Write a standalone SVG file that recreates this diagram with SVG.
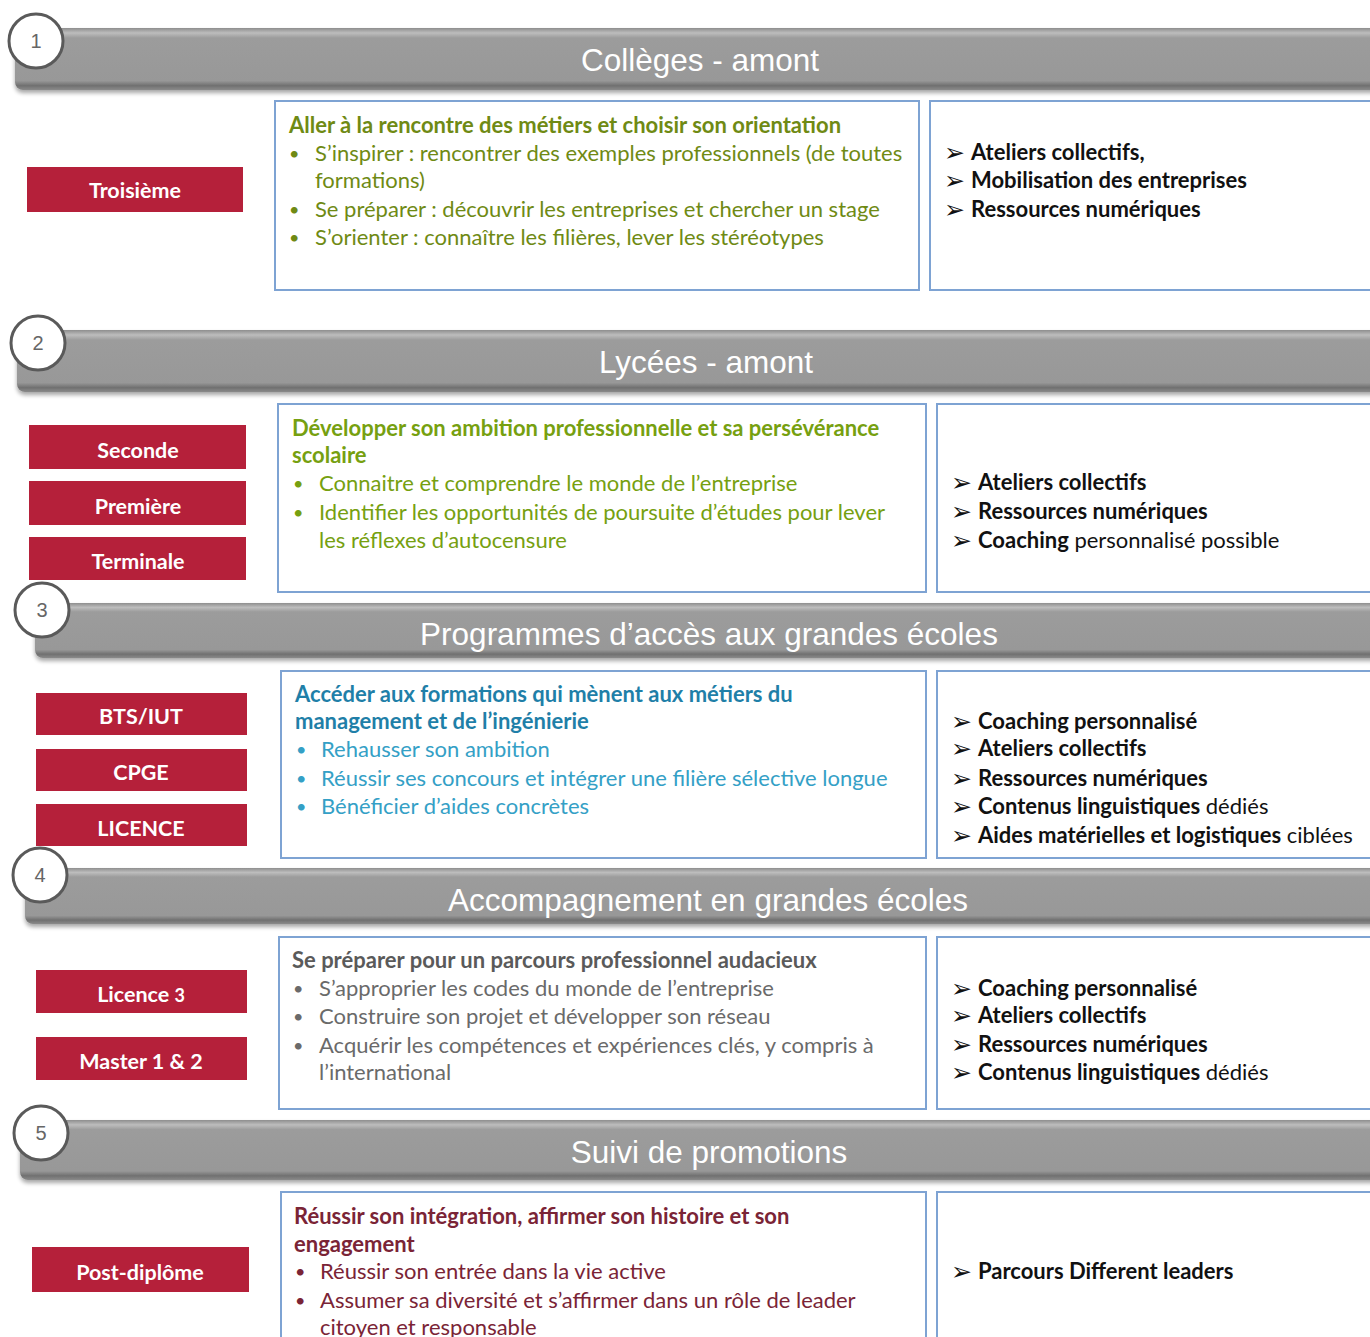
<svg xmlns="http://www.w3.org/2000/svg" width="1370" height="1337" viewBox="0 0 1370 1337">
<style>
.bar{fill:url(#barg);filter:url(#sh)}
.circ{fill:#fff;stroke:#5a5a5a;stroke-width:3}
.num{font-family:"Liberation Sans",Arial,sans-serif;font-size:20px;fill:#666;text-anchor:middle}
.title{font-family:"Liberation Sans",Arial,sans-serif;font-size:31.5px;fill:#fff;text-anchor:middle}
.red{fill:#b5203a}
.rt{font-family:Lato,"Liberation Sans",sans-serif;font-size:21.5px;font-weight:bold;fill:#fff;text-anchor:middle}
.box{fill:#fff;stroke:#7ea3d3;stroke-width:2}
.t{font-family:Lato,"Liberation Sans",sans-serif;font-size:22px}
.b{font-weight:bold}
.g1{fill:#6f8a14}
.g2{fill:#76a010}
.bl{fill:#1f7fa8}
.bl2{fill:#34a0c6}
.gr{fill:#5a5a5a}
.gr2{fill:#6a6a6a}
.rd{fill:#7a2436}
.k{fill:#111}
.ar{font-family:"DejaVu Sans",sans-serif;font-size:25px;fill:#111}
.dot{font-size:18px}
</style>
<defs>
<linearGradient id="barg" x1="0" y1="0" x2="0" y2="1">
<stop offset="0" stop-color="#8e8e8e"/>
<stop offset="0.08" stop-color="#bdbdbd"/>
<stop offset="0.16" stop-color="#9c9c9c"/>
<stop offset="0.85" stop-color="#989898"/>
<stop offset="0.93" stop-color="#707070"/>
<stop offset="1" stop-color="#8a8a8a"/>
</linearGradient>
<filter id="sh" x="-5%" y="-20%" width="110%" height="150%">
<feGaussianBlur in="SourceAlpha" stdDeviation="2"/>
<feOffset dx="0" dy="3" result="o"/>
<feComponentTransfer><feFuncA type="linear" slope="0.35"/></feComponentTransfer>
<feMerge><feMergeNode/><feMergeNode in="SourceGraphic"/></feMerge>
</filter>
</defs>

<!-- Section 1 -->
<g id="header1">
<rect class="bar" x="15" y="28" width="1370" height="62" rx="8"/>
<text class="title" x="700" y="71">Collèges - amont</text>
<circle class="circ" cx="36" cy="41" r="27"/>
<text class="num" x="36" y="48">1</text>
</g>
<g id="troisieme"><rect class="red" x="27" y="167" width="216" height="45"/><text class="rt" x="135" y="198">Troisième</text></g>
<g id="box1-mid">
<rect class="box" x="275" y="101" width="644" height="189"/>
<text class="t b g1" x="289" y="133">Aller à la rencontre des métiers et choisir son orientation</text>
<g class="t g1">
<text class="dot" x="289" y="160">•</text><text x="315" y="161">S’inspirer : rencontrer des exemples professionnels (de toutes</text>
<text x="315" y="188">formations)</text>
<text class="dot" x="289" y="216">•</text><text x="315" y="217">Se préparer : découvrir les entreprises et chercher un stage</text>
<text class="dot" x="289" y="244">•</text><text x="315" y="245">S’orienter : connaître les filières, lever les stéréotypes</text>
</g>
</g>
<g id="box1-right">
<rect class="box" x="930" y="101" width="460" height="189"/>
<text class="ar" x="944" y="161">➢</text><text class="t b k" x="971" y="160">Ateliers collectifs,</text>
<text class="ar" x="944" y="189">➢</text><text class="t b k" x="971" y="188">Mobilisation des entreprises</text>
<text class="ar" x="944" y="218">➢</text><text class="t b k" x="971" y="217">Ressources numériques</text>
</g>

<!-- Section 2 -->
<g id="header2">
<rect class="bar" x="17" y="330" width="1370" height="62" rx="8"/>
<text class="title" x="706" y="373">Lycées - amont</text>
<circle class="circ" cx="38" cy="343" r="27"/>
<text class="num" x="38" y="350">2</text>
</g>
<g id="seconde"><rect class="red" x="29" y="425" width="217" height="44"/><text class="rt" x="138" y="458">Seconde</text></g>
<g id="premiere"><rect class="red" x="29" y="481" width="217" height="44"/><text class="rt" x="138" y="514">Première</text></g>
<g id="terminale"><rect class="red" x="29" y="537" width="217" height="43"/><text class="rt" x="138" y="569">Terminale</text></g>
<g id="box2-mid">
<rect class="box" x="278" y="404" width="648" height="188"/>
<text class="t b g2" x="292" y="436">Développer son ambition professionnelle et sa persévérance</text>
<text class="t b g2" x="292" y="463">scolaire</text>
<g class="t g2">
<text class="dot" x="293" y="490">•</text><text x="319" y="491">Connaitre et comprendre le monde de l’entreprise</text>
<text class="dot" x="293" y="519">•</text><text x="319" y="520">Identifier les opportunités de poursuite d’études pour lever</text>
<text x="319" y="548">les réflexes d’autocensure</text>
</g>
</g>
<g id="box2-right">
<rect class="box" x="937" y="404" width="453" height="188"/>
<text class="ar" x="951" y="491">➢</text><text class="t b k" x="978" y="490">Ateliers collectifs</text>
<text class="ar" x="951" y="520">➢</text><text class="t b k" x="978" y="519">Ressources numériques</text>
<text class="ar" x="951" y="549">➢</text><text class="t k" x="978" y="548"><tspan class="b">Coaching</tspan> personnalisé possible</text>
</g>

<!-- Section 3 -->
<g id="header3">
<rect class="bar" x="35" y="603" width="1370" height="55" rx="8"/>
<text class="title" x="709" y="645">Programmes d’accès aux grandes écoles</text>
<circle class="circ" cx="42" cy="610" r="27"/>
<text class="num" x="42" y="617">3</text>
</g>
<g id="btsiut"><rect class="red" x="36" y="693" width="211" height="42"/><text class="rt" x="141" y="724">BTS/IUT</text></g>
<g id="cpge"><rect class="red" x="36" y="749" width="211" height="42"/><text class="rt" x="141" y="780">CPGE</text></g>
<g id="licence"><rect class="red" x="36" y="804" width="211" height="42"/><text class="rt" x="141" y="836">LICENCE</text></g>
<g id="box3-mid">
<rect class="box" x="281" y="671" width="645" height="187"/>
<text class="t b bl" x="295" y="702">Accéder aux formations qui mènent aux métiers du</text>
<text class="t b bl" x="295" y="729">management et de l’ingénierie</text>
<g class="t bl2">
<text class="dot" x="296" y="756">•</text><text x="321" y="757">Rehausser son ambition</text>
<text class="dot" x="296" y="785">•</text><text x="321" y="786">Réussir ses concours et intégrer une filière sélective longue</text>
<text class="dot" x="296" y="813">•</text><text x="321" y="814">Bénéficier d’aides concrètes</text>
</g>
</g>
<g id="box3-right">
<rect class="box" x="937" y="671" width="453" height="187"/>
<text class="ar" x="951" y="730">➢</text><text class="t b k" x="978" y="729">Coaching personnalisé</text>
<text class="ar" x="951" y="757">➢</text><text class="t b k" x="978" y="756">Ateliers collectifs</text>
<text class="ar" x="951" y="787">➢</text><text class="t b k" x="978" y="786">Ressources numériques</text>
<text class="ar" x="951" y="815">➢</text><text class="t k" x="978" y="814"><tspan class="b">Contenus linguistiques</tspan> dédiés</text>
<text class="ar" x="951" y="844">➢</text><text class="t k" x="978" y="843"><tspan class="b">Aides matérielles et logistiques</tspan> ciblées</text>
</g>

<!-- Section 4 -->
<g id="header4">
<rect class="bar" x="25" y="868" width="1370" height="56" rx="8"/>
<text class="title" x="708" y="911">Accompagnement en grandes écoles</text>
<circle class="circ" cx="40" cy="875" r="27"/>
<text class="num" x="40" y="882">4</text>
</g>
<g id="licence3"><rect class="red" x="36" y="970" width="211" height="43"/><text class="rt" x="141" y="1002">Licence <tspan font-size="18">3</tspan></text></g>
<g id="master"><rect class="red" x="36" y="1037" width="211" height="43"/><text class="rt" x="141" y="1069">Master 1 &amp; 2</text></g>
<g id="box4-mid">
<rect class="box" x="279" y="937" width="647" height="172"/>
<text class="t b gr" x="292" y="968">Se préparer pour un parcours professionnel audacieux</text>
<g class="t gr2">
<text class="dot" x="293" y="995">•</text><text x="319" y="996">S’approprier les codes du monde de l’entreprise</text>
<text class="dot" x="293" y="1023">•</text><text x="319" y="1024">Construire son projet et développer son réseau</text>
<text class="dot" x="293" y="1052">•</text><text x="319" y="1053">Acquérir les compétences et expériences clés, y compris à</text>
<text x="319" y="1080">l’international</text>
</g>
</g>
<g id="box4-right">
<rect class="box" x="937" y="937" width="453" height="172"/>
<text class="ar" x="951" y="997">➢</text><text class="t b k" x="978" y="996">Coaching personnalisé</text>
<text class="ar" x="951" y="1024">➢</text><text class="t b k" x="978" y="1023">Ateliers collectifs</text>
<text class="ar" x="951" y="1053">➢</text><text class="t b k" x="978" y="1052">Ressources numériques</text>
<text class="ar" x="951" y="1081">➢</text><text class="t k" x="978" y="1080"><tspan class="b">Contenus linguistiques</tspan> dédiés</text>
</g>

<!-- Section 5 -->
<g id="header5">
<rect class="bar" x="20" y="1120" width="1370" height="60" rx="8"/>
<text class="title" x="709" y="1163">Suivi de promotions</text>
<circle class="circ" cx="41" cy="1133" r="27"/>
<text class="num" x="41" y="1140">5</text>
</g>
<g id="postdiplome"><rect class="red" x="32" y="1247" width="217" height="45"/><text class="rt" x="140" y="1280">Post-diplôme</text></g>
<g id="box5-mid">
<rect class="box" x="281" y="1192" width="645" height="160"/>
<text class="t b rd" x="294" y="1224">Réussir son intégration, affirmer son histoire et son</text>
<text class="t b rd" x="294" y="1252">engagement</text>
<g class="t rd">
<text class="dot" x="295" y="1278">•</text><text x="320" y="1279">Réussir son entrée dans la vie active</text>
<text class="dot" x="295" y="1307">•</text><text x="320" y="1308">Assumer sa diversité et s’affirmer dans un rôle de leader</text>
<text x="320" y="1335">citoyen et responsable</text>
</g>
</g>
<g id="box5-right">
<rect class="box" x="937" y="1192" width="453" height="160"/>
<text class="ar" x="951" y="1280">➢</text><text class="t b k" x="978" y="1279">Parcours Different leaders</text>
</g>
<g id="connectors"/>
</svg>
